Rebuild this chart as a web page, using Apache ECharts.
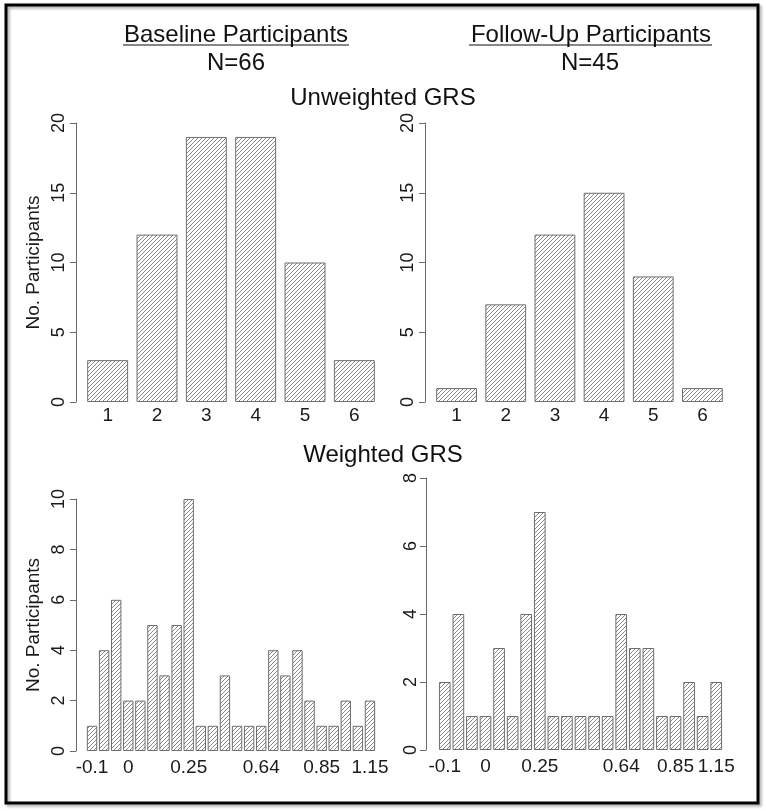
<!DOCTYPE html>
<html>
<head>
<meta charset="utf-8">
<script src="https://cdn.jsdelivr.net/npm/echarts@6/dist/echarts.min.js"></script>
<style>
html,body{margin:0;padding:0;background:#fff;}
#chart{width:766px;height:811px;}
</style>
</head>
<body>
<div id="chart"></div>
<script>
// ---- Data ----
const unweightedCategories = ['1', '2', '3', '4', '5', '6'];
const baselineUnweighted = [3, 12, 19, 19, 10, 3];
const followUnweighted = [1, 7, 12, 15, 9, 1];

// weighted GRS bins (labels shown only on some bins, as in the reference)
const baselineWeightedLabels = ['-0.1', '', '', '0', '', '', '', '', '0.25', '', '', '', '', '', '0.64', '', '', '', '', '0.85', '', '', '', '1.15'];
const baselineWeighted = [1, 4, 6, 2, 2, 5, 3, 5, 10, 1, 1, 3, 1, 1, 1, 4, 3, 4, 2, 1, 1, 2, 1, 2];
const followWeightedLabels = ['-0.1', '', '', '0', '', '', '', '0.25', '', '', '', '', '', '0.64', '', '', '', '0.85', '', '', '1.15'];
const followWeighted = [2, 4, 1, 1, 3, 1, 4, 7, 1, 1, 1, 1, 1, 4, 3, 3, 1, 1, 2, 1, 2];

const yTopMax = 20, yTopInterval = 5;
const yBLMax = 10, yBRMax = 8, yBottomInterval = 2;

// ---- Hatch pattern ----
function makeHatch() {
  const c = document.createElement('canvas');
  c.width = 4; c.height = 4;
  const ctx = c.getContext('2d');
  ctx.fillStyle = '#ffffff';
  ctx.fillRect(0, 0, 4, 4);
  ctx.strokeStyle = '#7c7c7c';
  ctx.lineWidth = 0.9;
  ctx.beginPath();
  ctx.moveTo(-1, 5); ctx.lineTo(5, -1);
  ctx.moveTo(-1, 1); ctx.lineTo(1, -1);
  ctx.moveTo(3, 5); ctx.lineTo(5, 3);
  ctx.stroke();
  return c;
}
const hatch = { image: makeHatch(), repeat: 'repeat' };

const FONT = '"Liberation Sans", Arial, sans-serif';
const chart = echarts.init(document.getElementById('chart'), null, { renderer: 'canvas' });

function xAxis(gridIndex, data, margin) {
  return {
    type: 'category', gridIndex, data,
    axisLine: { show: false }, axisTick: { show: false }, splitLine: { show: false },
    axisLabel: { interval: 0, margin, fontFamily: FONT, fontSize: 19, color: '#1a1a1a' }
  };
}
function yAxis(gridIndex, max, interval, offset, name, labelMargin) {
  return {
    type: 'value', gridIndex, min: 0, max, interval, offset,
    name: name || '', nameLocation: 'middle', nameRotate: 90, nameGap: 33,
    nameTextStyle: { fontFamily: FONT, fontSize: 19, color: '#1a1a1a' },
    axisLine: { show: true, lineStyle: { color: '#6a6a6a', width: 1 } },
    axisTick: { show: true, length: 6, lineStyle: { color: '#6a6a6a' } },
    splitLine: { show: false },
    axisLabel: { rotate: 90, margin: labelMargin, fontFamily: FONT, fontSize: 18, color: '#1a1a1a' }
  };
}
function barSeries(idx, data, gap) {
  return {
    type: 'bar', xAxisIndex: idx, yAxisIndex: idx, data,
    barCategoryGap: gap, silent: true, animation: false,
    itemStyle: { color: hatch, borderColor: '#6e6e6e', borderWidth: 1 }
  };
}

const titleStyle = { fontFamily: FONT, fontSize: 24, fill: '#111' };

chart.setOption({
  animation: false,
  grid: [
    { left: 83, right: 387, top: 123, bottom: 409 },
    { left: 432, right: 39, top: 123, bottom: 409 },
    { left: 86, right: 390, top: 499, bottom: 60 },
    { left: 438, right: 43, top: 478, bottom: 61 }
  ],
  xAxis: [
    xAxis(0, unweightedCategories, 4),
    xAxis(1, unweightedCategories, 4),
    xAxis(2, baselineWeightedLabels, 7),
    xAxis(3, followWeightedLabels, 7)
  ],
  yAxis: [
    yAxis(0, yTopMax, yTopInterval, 7, 'No. Participants', 8),
    yAxis(1, yTopMax, yTopInterval, 7, '', 8),
    yAxis(2, yBLMax, yBottomInterval, 10, 'No. Participants', 8),
    yAxis(3, yBRMax, yBottomInterval, 12, '', 6)
  ],
  series: [
    barSeries(0, baselineUnweighted, '17%'),
    barSeries(1, followUnweighted, '17%'),
    barSeries(2, baselineWeighted, '14%'),
    barSeries(3, followWeighted, '14%')
  ],
  graphic: [
    { type: 'rect', shape: { x: 6, y: 5, width: 752, height: 798 }, z: 100, silent: true,
      style: { fill: 'none', stroke: '#000', lineWidth: 3, shadowBlur: 3, shadowColor: 'rgba(0,0,0,0.35)', shadowOffsetX: 2, shadowOffsetY: 2 } },
    { type: 'text', x: 236, y: 35, style: Object.assign({ text: 'Baseline Participants', align: 'center', verticalAlign: 'middle' }, titleStyle) },
    { type: 'line', shape: { x1: 123, y1: 45, x2: 349, y2: 45 }, style: { stroke: '#111', lineWidth: 1.2 } },
    { type: 'text', x: 236, y: 63, style: Object.assign({ text: 'N=66', align: 'center', verticalAlign: 'middle' }, titleStyle) },
    { type: 'text', x: 591, y: 35, style: Object.assign({ text: 'Follow-Up Participants', align: 'center', verticalAlign: 'middle' }, titleStyle) },
    { type: 'line', shape: { x1: 469, y1: 45, x2: 712, y2: 45 }, style: { stroke: '#111', lineWidth: 1.2 } },
    { type: 'text', x: 590, y: 63, style: Object.assign({ text: 'N=45', align: 'center', verticalAlign: 'middle' }, titleStyle) },
    { type: 'text', x: 383, y: 98, style: Object.assign({ text: 'Unweighted GRS', align: 'center', verticalAlign: 'middle' }, titleStyle) },
    { type: 'text', x: 383, y: 455, style: Object.assign({ text: 'Weighted GRS', align: 'center', verticalAlign: 'middle' }, titleStyle) }
  ]
});
</script>
</body>
</html>
